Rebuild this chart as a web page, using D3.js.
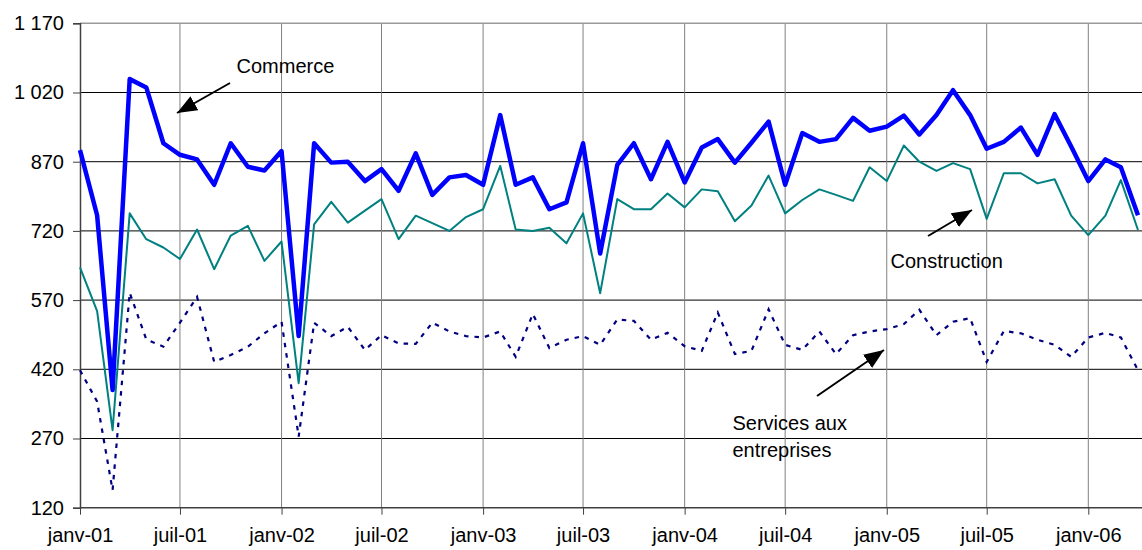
<!DOCTYPE html>
<html>
<head>
<meta charset="utf-8">
<script src="https://cdn.jsdelivr.net/npm/d3@7"></script>
<style>
  body { margin: 0; background: #fff; }
  svg { display: block; font-family: Arial, "Liberation Sans", sans-serif; }
</style>
</head>
<body>
<div id="output"></div>
<script>
// monthly series, janv-01 .. avr-06
const months = [
  "2001-01","2001-02","2001-03","2001-04","2001-05","2001-06","2001-07","2001-08","2001-09","2001-10","2001-11","2001-12",
  "2002-01","2002-02","2002-03","2002-04","2002-05","2002-06","2002-07","2002-08","2002-09","2002-10","2002-11","2002-12",
  "2003-01","2003-02","2003-03","2003-04","2003-05","2003-06","2003-07","2003-08","2003-09","2003-10","2003-11","2003-12",
  "2004-01","2004-02","2004-03","2004-04","2004-05","2004-06","2004-07","2004-08","2004-09","2004-10","2004-11","2004-12",
  "2005-01","2005-02","2005-03","2005-04","2005-05","2005-06","2005-07","2005-08","2005-09","2005-10","2005-11","2005-12",
  "2006-01","2006-02","2006-03","2006-04"
];

const commerce = [
  895, 754, 375, 1049, 1031, 910, 885, 875, 820, 910, 859, 851,
  893, 492, 910, 868, 870, 828, 854, 807, 888, 798, 836, 841,
  820, 971, 820, 836, 767, 782, 910, 671, 863, 910, 832, 913,
  825, 901, 919, 868, 911, 957, 820, 932, 913, 919, 965, 937,
  946, 970, 929, 971, 1025, 971, 898, 913, 944, 885, 973, 903,
  828, 875, 858, 754
];

const construction = [
  641, 546, 288, 758, 702, 684, 659, 723, 637, 710, 731, 655,
  697, 390, 734, 783, 738, 764, 789, 702, 753, 737, 720, 750,
  767, 861, 723, 720, 727, 693, 758, 585, 789, 767, 767, 801,
  771, 810, 806, 741, 775, 840, 758, 787, 810, 798, 785, 858,
  828, 905, 870, 850, 867, 854, 746, 845, 845, 823, 832, 753,
  711, 753, 830, 722
];

const services = [
  418, 350, 158, 586, 485, 469, 521, 577, 436, 451, 469, 498,
  523, 274, 521, 492, 512, 462, 494, 476, 475, 521, 502, 492,
  489, 502, 447, 540, 466, 484, 492, 473, 528, 525, 484, 499,
  470, 460, 543, 453, 460, 550, 473, 462, 502, 453, 494, 502,
  507, 518, 549, 494, 523, 531, 436, 503, 498, 484, 473, 447,
  489, 499, 489, 418
];

const yTicks = [120, 270, 420, 570, 720, 870, 1020, 1170];
const xTickDates = ["2001-01","2001-07","2002-01","2002-07","2003-01","2003-07","2004-01","2004-07","2005-01","2005-07","2006-01"];
const xTickLabels = ["janv-01","juil-01","janv-02","juil-02","janv-03","juil-03","janv-04","juil-04","janv-05","juil-05","janv-06"];

const width = 1142, height = 550;
const plotLeft = 80, plotRight = 1142, plotTop = 23.3, plotBottom = 507.7;

const parse = d3.timeParse("%Y-%m");
const dates = months.map(parse);

const x = d3.scaleTime()
    .domain([parse("2001-01"), parse("2006-01")])
    .range([plotLeft, 1088.3]);

const y = d3.scaleLinear()
    .domain([120, 1170])
    .range([plotBottom, plotTop]);

const svg = d3.select("#output").append("svg")
    .attr("width", width)
    .attr("height", height);

svg.append("defs").append("marker")
    .attr("id", "head")
    .attr("viewBox", "0 -8 20 16")
    .attr("refX", 20)
    .attr("refY", 0)
    .attr("markerUnits", "userSpaceOnUse")
    .attr("markerWidth", 20)
    .attr("markerHeight", 16)
    .attr("orient", "auto")
    .append("path")
    .attr("fill", "#000")
    .attr("d", "M0,-8L20,0L0,8Z");

// horizontal grid
svg.append("g")
    .selectAll("line")
    .data(yTicks.slice(1, -1))
    .join("line")
    .attr("x1", plotLeft).attr("x2", plotRight)
    .attr("y1", d => y(d)).attr("y2", d => y(d))
    .attr("stroke", "#000")
    .attr("stroke-width", 1);

// vertical grid
svg.append("g")
    .selectAll("line")
    .data(xTickDates.slice(1))
    .join("line")
    .attr("x1", d => x(parse(d))).attr("x2", d => x(parse(d)))
    .attr("y1", plotTop).attr("y2", plotBottom)
    .attr("stroke", "#808080")
    .attr("stroke-width", 1);

// top border
svg.append("line")
    .attr("x1", plotLeft).attr("x2", plotRight)
    .attr("y1", y(1170)).attr("y2", y(1170))
    .attr("stroke", "#999")
    .attr("stroke-width", 1.5);

// y axis
const yAxis = svg.append("g")
    .attr("transform", `translate(${plotLeft},0)`)
    .call(d3.axisLeft(y)
        .tickValues(yTicks)
        .tickSize(7)
        .tickPadding(9)
        .tickFormat(d => d3.format(",")(d).replace(",", " ")));
yAxis.select(".domain").attr("stroke", "#404040").attr("stroke-width", 1.5);
yAxis.selectAll(".tick line").attr("stroke", "#404040");
yAxis.selectAll("text")
    .attr("font-size", 20)
    .attr("font-family", "Arial, 'Liberation Sans', sans-serif")
    .attr("fill", "#000");

// x axis
const xAxis = svg.append("g")
    .attr("transform", `translate(0,${plotBottom})`)
    .call(d3.axisBottom(x)
        .tickValues(xTickDates.map(parse))
        .tickSize(7)
        .tickPadding(13)
        .tickFormat((d, i) => xTickLabels[i]));
xAxis.select(".domain")
    .attr("d", `M${plotLeft},0H${plotRight}`)
    .attr("stroke", "#404040")
    .attr("stroke-width", 1.5);
xAxis.selectAll(".tick line").attr("stroke", "#404040");
xAxis.selectAll("text")
    .attr("font-size", 20)
    .attr("font-family", "Arial, 'Liberation Sans', sans-serif")
    .attr("fill", "#000");

const line = d3.line()
    .x((d, i) => x(dates[i]))
    .y(d => y(d));

svg.append("path")
    .datum(services)
    .attr("fill", "none")
    .attr("stroke", "#000080")
    .attr("stroke-width", 2.2)
    .attr("stroke-dasharray", "4.5,6")
    .attr("d", line);

svg.append("path")
    .datum(construction)
    .attr("fill", "none")
    .attr("stroke", "#008080")
    .attr("stroke-width", 2)
    .attr("stroke-linejoin", "round")
    .attr("d", line);

svg.append("path")
    .datum(commerce)
    .attr("fill", "none")
    .attr("stroke", "#0000ff")
    .attr("stroke-width", 4.5)
    .attr("stroke-linejoin", "round")
    .attr("d", line);

// annotations
const notes = [
  {lines: ["Commerce"], tx: 236.5, ty: 72.5, from: [230, 83], to: [177, 113]},
  {lines: ["Construction"], tx: 890.5, ty: 267.5, from: [928, 236], to: [972, 210]},
  {lines: ["Services aux", "entreprises"], tx: 732.5, ty: 430, from: [817, 396], to: [884, 350]}
];

const note = svg.append("g")
    .selectAll("g")
    .data(notes)
    .join("g");

note.append("line")
    .attr("x1", d => d.from[0]).attr("y1", d => d.from[1])
    .attr("x2", d => d.to[0]).attr("y2", d => d.to[1])
    .attr("stroke", "#000")
    .attr("stroke-width", 2)
    .attr("marker-end", "url(#head)");

note.append("text")
    .attr("font-size", 20)
    .attr("fill", "#000")
    .selectAll("tspan")
    .data(d => d.lines.map((t, i) => ({t, x: d.tx, y: d.ty + i * 27})))
    .join("tspan")
    .attr("x", d => d.x)
    .attr("y", d => d.y)
    .text(d => d.t);
</script>
</body>
</html>
